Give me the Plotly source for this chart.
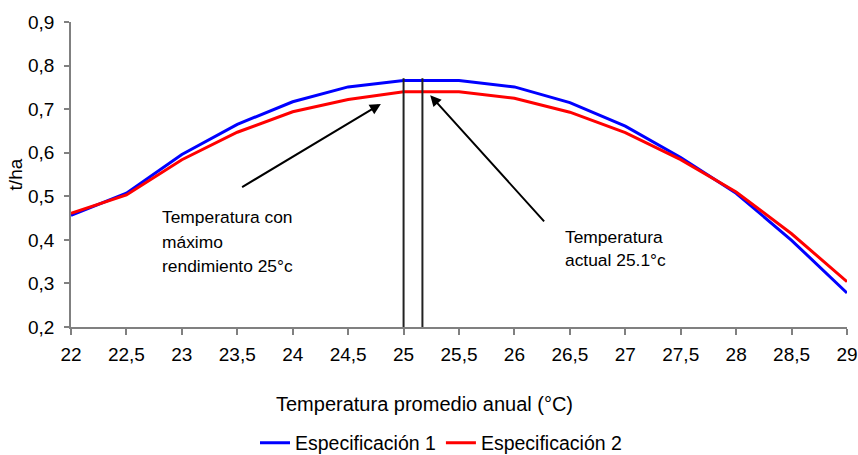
import plotly.graph_objects as go

# ---- data ----
temps = [22, 22.5, 23, 23.5, 24, 24.5, 25, 25.5, 26, 26.5, 27, 27.5, 28, 28.5, 29]
spec1 = [0.456, 0.507, 0.596, 0.665, 0.717, 0.751, 0.766, 0.766, 0.751, 0.715, 0.661, 0.589, 0.507, 0.399, 0.278]
spec2 = [0.461, 0.503, 0.584, 0.647, 0.694, 0.722, 0.740, 0.740, 0.725, 0.693, 0.646, 0.584, 0.510, 0.414, 0.304]
series_names = ["Especificación 1", "Especificación 2"]
series_colors = ["#0000FF", "#FF0000"]

vline_x = [25, 25.17]
vline_top = 0.771

x_ticks = [22, 22.5, 23, 23.5, 24, 24.5, 25, 25.5, 26, 26.5, 27, 27.5, 28, 28.5, 29]
y_ticks = [0.2, 0.3, 0.4, 0.5, 0.6, 0.7, 0.8, 0.9]

x_title = "Temperatura promedio anual (°C)"
y_title = "t/ha"

# arrows: (tail_x, tail_y, head_x, head_y)
arrows = [(23.53, 0.519, 24.795, 0.712), (26.28, 0.439, 25.24, 0.732)]
# text lines: (x, y, text)
note_lines = [
    (22.80, 0.452, "Temperatura con"),
    (22.80, 0.395, "máximo"),
    (22.80, 0.339, "rendimiento 25°c"),
    (26.44, 0.406, "Temperatura"),
    (26.44, 0.353, "actual 25.1°c"),
]

FONT = "Liberation Sans, Arial, sans-serif"
AX = "#808080"

fig = go.Figure()
for name, vals, col in zip(series_names, [spec1, spec2], series_colors):
    fig.add_trace(go.Scatter(x=temps, y=vals, mode="lines", name=name,
                             line=dict(color=col, width=3)))

for vx in vline_x:
    fig.add_shape(type="line", xref="x", yref="y", x0=vx, x1=vx, y0=0.2, y1=vline_top,
                  line=dict(color="#222222", width=2))

for tx, ty, hx, hy in arrows:
    fig.add_annotation(x=hx, y=hy, ax=tx, ay=ty, xref="x", yref="y", axref="x", ayref="y",
                       showarrow=True, arrowhead=2, arrowsize=1.1, arrowwidth=2,
                       arrowcolor="black", text="")

for nx, ny, t in note_lines:
    fig.add_annotation(x=nx, y=ny, xref="x", yref="y", text=t, showarrow=False,
                       xanchor="left", yanchor="middle",
                       font=dict(family=FONT, size=17.4, color="black"))

fig.add_annotation(x=0.4555, y=-0.2525, xref="paper", yref="paper", text=x_title,
                   showarrow=False, xanchor="center", yanchor="middle",
                   font=dict(family=FONT, size=20, color="black"))
fig.add_annotation(x=-0.071, y=0.5, xref="paper", yref="paper", text=y_title,
                   showarrow=False, textangle=-90, xanchor="center", yanchor="middle",
                   font=dict(family=FONT, size=19, color="black"))

fig.update_layout(
    width=858, height=455,
    margin=dict(l=71, r=11, t=22, b=128, autoexpand=False),
    paper_bgcolor="white", plot_bgcolor="white",
    separators=", ",
    font=dict(family=FONT, size=19, color="black"),
    showlegend=True,
    legend=dict(orientation="h", x=441 / 858, xref="container", xanchor="center",
                y=1 - 443 / 455, yref="container", yanchor="middle",
                font=dict(family=FONT, size=19.5, color="black"),
                bgcolor="rgba(0,0,0,0)"),
)
fig.update_xaxes(range=[22, 29], tickvals=x_ticks, showgrid=False, zeroline=False,
                 showline=True, linecolor=AX, linewidth=1.5, ticks="outside",
                 ticklen=6, tickcolor=AX, tickwidth=1.5, ticklabelstandoff=3,
                 ticklabeloverflow="allow",
                 tickfont=dict(family=FONT, size=19, color="black"))
fig.update_yaxes(range=[0.2, 0.9], tickvals=y_ticks, tickformat=".1f", showgrid=False,
                 zeroline=False, showline=True, linecolor=AX, linewidth=1.5,
                 ticks="outside", ticklen=5, tickcolor=AX, tickwidth=1.5,
                 ticklabelstandoff=6,
                 tickfont=dict(family=FONT, size=19, color="black"))

fig.write_html("out.html", config={"displayModeBar": False},
               post_script="document.body.style.margin='0';document.body.style.overflow='hidden';")
